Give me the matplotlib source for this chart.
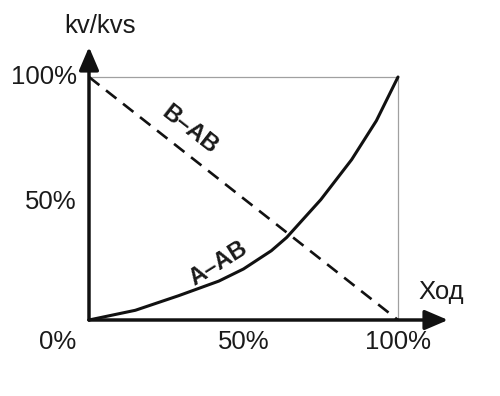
import numpy as np
import matplotlib
matplotlib.use('Agg')
import matplotlib.pyplot as plt

plt.rcParams['font.family'] = ['Liberation Sans', 'DejaVu Sans']

# valve stroke [%] and relative flow kv/kvs [%]
stroke_a = [0, 15, 29, 42, 50, 59, 64, 75, 85, 93, 100]
kv_a = [0, 4, 10, 16, 21, 28.5, 34, 49.5, 66, 82, 100]
stroke_b = [0, 100]
kv_b = [100, 0]

ticks = [0, 50, 100]
tick_labels = ['0%', '50%', '100%']

fig = plt.figure(figsize=(5, 3.96), dpi=100)
W, H = 500, 396
x0, x1, y0, y1 = 89, 398, 320, 77
ax = fig.add_axes([x0 / W, 1 - y0 / H, (x1 - x0) / W, (y0 - y1) / H])
ax.set_xlim(0, 100)
ax.set_ylim(0, 100)
ax.axis('off')

sx = 100 / (x1 - x0)
sy = 100 / (y0 - y1)

# thin grey frame
ax.plot([0, 100, 100], [100, 100, 0], color='#a0a0a0', lw=0.9, clip_on=False)

# curves
ax.plot(stroke_b, kv_b, color='#111111', lw=1.9, dashes=(5, 3.2), clip_on=False)
ax.plot(stroke_a, kv_a, color='#111111', lw=2.2, clip_on=False,
        solid_capstyle='round', solid_joinstyle='round')

# axes with arrows
arw = dict(arrowstyle='-|>,head_length=1.4,head_width=0.6', lw=2.5,
           color='#111111', mutation_scale=10, shrinkA=0, shrinkB=0)
ax.annotate('', xy=(0, (y0 - 47) * sy), xytext=(0, 0), arrowprops=arw,
            annotation_clip=False)
ax.annotate('', xy=((448 - x0) * sx, 0), xytext=(0, 0), arrowprops=arw,
            annotation_clip=False)

# tick labels
fs = 18.5
for t, lab in zip(ticks[1:], tick_labels[1:]):
    ax.text(t, (y0 - 342) * sy, lab, ha='center', va='center', fontsize=fs,
            color='#1a1a1a', clip_on=False)
    ax.text((77 - x0) * sx, t - 1.5 * (t == 50), lab, ha='right', va='center',
            fontsize=fs, color='#1a1a1a', clip_on=False)
ax.text((76 - x0) * sx, (y0 - 342) * sy, tick_labels[0], ha='right',
        va='center', fontsize=fs, color='#1a1a1a', clip_on=False)

ax.text((100 - x0) * sx, (y0 - 26) * sy, 'kv/kvs', ha='center', va='center',
        fontsize=fs, color='#1a1a1a', clip_on=False)
ax.text((441 - x0) * sx, (y0 - 292) * sy, 'Ход', ha='center', va='center',
        fontsize=fs, color='#1a1a1a', clip_on=False)

ax.text((190 - x0) * sx, (y0 - 130) * sy, 'B–AB', ha='center', va='center',
        fontsize=17, fontweight='bold', rotation=-38, color='#1a1a1a',
        rotation_mode='anchor')
ax.text((218 - x0) * sx, (y0 - 263) * sy, 'A–AB', ha='center', va='center',
        fontsize=17, fontweight='bold', rotation=32, color='#1a1a1a',
        rotation_mode='anchor')

fig.savefig('out.png', dpi=100)
